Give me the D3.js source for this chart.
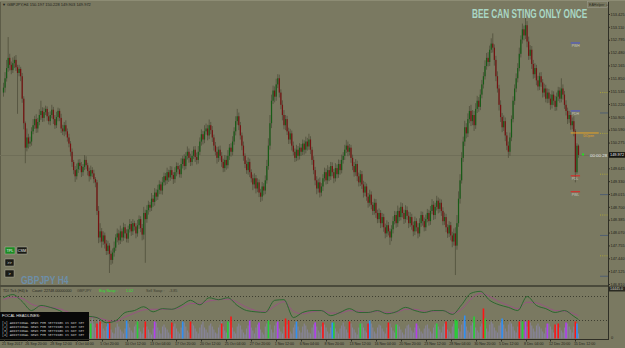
<!DOCTYPE html>
<html lang="en">
<head>
<meta charset="UTF-8">
<title>GBPJPY H4</title>
<script src="https://cdn.jsdelivr.net/npm/d3@7"></script>
<style>
  body { margin: 0; background: #7a7961; }
  svg { display: block; }
  text { font-family: "Liberation Sans", Arial, sans-serif; }
</style>
</head>
<body>
<svg id="chart" width="625" height="348"></svg>
<script>
// ---- price data (H4 closes, 21 Sep - 15 Dec 2017) ----
var firstOpen = 151.50;
var closes = [
  151.62,151.85,152.10,152.35,152.18,152.05,152.22,152.30,152.12,151.98,
  152.08,151.90,151.35,150.75,150.15,150.40,150.25,150.30,150.55,150.70,
  150.85,150.62,150.78,150.95,151.05,150.88,151.02,151.10,150.92,150.80,
  150.95,151.08,150.85,150.70,150.90,151.05,150.88,150.62,150.55,150.70,
  150.55,150.40,150.25,150.05,149.80,149.60,149.45,149.62,149.78,149.70,
  149.55,149.68,149.85,149.72,149.58,149.45,149.60,149.52,149.38,149.30,
  148.60,147.95,148.10,147.85,148.00,147.80,147.62,147.75,147.55,147.40,
  147.58,147.70,147.95,148.05,147.88,148.10,147.95,148.20,148.05,147.92,
  148.15,148.28,148.10,148.30,148.22,148.05,148.25,148.40,148.18,148.02,
  148.55,148.40,148.62,148.75,148.68,148.90,148.82,149.05,148.95,149.12,
  149.25,149.10,149.30,149.45,149.35,149.55,149.42,149.60,149.48,149.38,
  149.55,149.70,149.62,149.50,149.75,149.88,149.70,149.95,150.05,149.90,
  149.80,149.95,150.10,149.92,149.85,150.05,150.30,150.48,150.35,150.55,
  150.62,150.45,150.70,150.58,150.40,150.20,150.05,149.90,150.10,149.95,
  149.80,149.65,149.85,149.72,149.95,150.15,150.05,150.30,150.55,150.80,
  150.92,150.70,150.45,150.20,149.95,149.75,149.60,149.80,149.55,149.40,
  149.25,149.40,149.15,149.30,149.05,148.95,149.20,149.10,149.35,149.70,
  150.20,150.75,151.30,151.55,151.40,151.70,151.85,151.50,151.20,150.95,
  150.70,150.85,150.55,150.35,150.50,150.20,150.05,149.90,150.10,149.95,
  150.15,150.05,150.25,150.10,150.30,150.18,150.35,150.10,149.85,149.60,
  149.35,149.15,149.30,149.05,149.20,149.40,149.55,149.35,149.60,149.45,
  149.70,149.55,149.40,149.65,149.50,149.75,149.60,149.85,149.95,150.10,
  150.20,150.05,150.15,149.90,149.70,149.55,149.75,149.45,149.30,149.50,
  149.25,149.05,149.20,148.95,148.80,149.00,148.75,148.60,148.80,148.55,
  148.40,148.55,148.30,148.45,148.20,148.05,148.25,148.10,147.95,148.15,
  148.35,148.50,148.30,148.60,148.45,148.70,148.55,148.40,148.62,148.48,
  148.30,148.45,148.25,148.10,148.35,148.20,148.05,148.30,148.50,148.35,
  148.20,148.40,148.55,148.35,148.60,148.75,148.50,148.70,148.85,148.65,
  148.80,148.60,148.35,148.45,148.20,148.05,148.25,148.00,147.85,148.05,
  147.75,148.30,148.90,149.35,149.90,150.30,150.65,150.50,150.85,151.05,
  150.80,150.95,150.70,151.10,151.30,151.15,151.45,151.70,151.90,152.15,
  152.35,152.25,152.55,152.70,152.60,152.30,151.90,151.60,151.20,150.90,
  150.65,150.80,150.45,150.20,150.05,150.40,150.85,151.30,151.60,151.85,
  152.10,152.45,152.80,153.05,152.90,153.15,152.75,152.40,152.55,152.20,
  151.95,152.10,151.80,151.65,151.90,151.75,151.50,151.60,151.35,151.50,
  151.35,151.20,151.45,151.30,151.15,151.40,151.55,151.35,151.60,151.45,
  151.20,151.05,150.85,150.95,150.70,150.80,150.55,149.55,150.197,149.972
];
// upper / lower wick length in pips
var wickUp = [
  12,15,20,51,10,8,14,9,12,6,  10,5,8,6,4,22,9,12,10,15,  8,12,10,14,25,9,11,8,6,10,
  9,12,7,10,13,8,6,10,9,8,  12,7,9,6,8,5,10,14,8,9,  10,7,12,9,6,8,11,7,9,5,
  6,12,20,8,10,7,9,12,6,8,  10,15,8,12,9,14,7,11,8,10,  9,12,7,10,6,8,13,9,7,10,
  15,8,12,10,7,14,9,11,8,12,  10,7,13,9,8,11,6,10,9,7,  12,9,8,10,14,7,11,9,13,8,
  10,12,8,9,11,14,10,12,8,15,  12,9,14,8,10,7,9,12,8,10,  9,8,12,10,14,9,11,13,10,12,
  18,9,8,7,10,6,9,11,8,7,  9,12,8,10,7,9,11,8,12,15,  18,20,15,12,10,14,10,9,8,11,
  12,10,8,9,11,7,10,8,12,9,  11,9,10,8,12,9,14,8,7,9,  8,10,9,12,8,10,11,9,12,8,
  10,9,8,12,9,11,10,13,9,12,  14,10,9,7,8,10,12,8,9,10,  8,9,11,7,9,12,8,7,10,9,
  8,11,7,10,8,9,12,8,7,10,  12,10,9,13,8,11,9,8,12,9,  10,12,8,9,11,7,10,12,9,8,
  9,11,10,8,12,14,9,10,12,8,  10,8,9,11,8,7,10,8,9,12,  15,20,18,15,14,12,16,10,14,12,
  15,12,10,14,12,9,13,11,10,14,  12,14,10,13,25,8,10,12,9,11,  10,14,9,8,10,12,9,11,10,12,
  12,15,10,14,9,18,10,12,11,9,  10,12,8,11,9,10,8,12,9,10,  9,11,10,8,12,10,9,8,25,10,
  9,11,8,10,7,9,12,5,6,3
];
var wickDn = [
  10,12,8,9,14,10,7,12,9,100,  8,12,10,15,38,9,12,8,10,7,  9,11,10,8,12,10,9,7,11,8,
  10,8,12,9,7,10,8,11,9,12,  8,10,9,11,12,10,14,8,9,10,  12,9,8,10,11,13,8,9,10,12,
  10,14,12,15,8,12,10,9,47,12,  9,10,8,12,11,9,10,8,12,9,  10,8,11,9,10,12,8,9,10,14,
  12,107,9,11,10,8,12,9,10,8,  11,9,10,8,12,9,11,8,10,12,  9,10,12,8,9,11,10,8,9,12,
  10,9,8,12,11,9,8,10,12,9,  8,12,9,10,11,12,9,14,10,11,  12,10,9,11,8,10,12,9,8,10,
  9,12,10,11,12,10,9,11,12,10,  14,10,12,9,11,13,10,12,9,8,  9,10,12,8,14,10,9,12,11,13,
  10,12,9,11,10,12,9,10,8,11,  9,10,8,12,9,10,8,11,12,10,  12,14,10,12,9,11,8,10,9,12,
  9,10,12,8,10,9,11,8,9,10,  8,11,9,12,10,11,9,12,10,9,  11,12,9,10,12,9,11,10,9,12,
  10,9,12,10,11,12,9,10,18,9,  10,8,11,9,10,8,11,12,9,10,  12,9,11,12,9,10,12,8,9,11,
  10,9,8,11,9,8,12,10,9,11,  9,12,10,9,12,11,9,12,14,10,  72,10,9,12,8,10,11,12,9,10,
  12,10,14,9,10,12,8,9,10,8,  9,11,10,8,12,14,12,10,14,12,  12,9,14,11,15,10,9,8,10,9,
  10,8,9,10,12,9,14,10,9,12,  11,9,12,10,9,11,12,10,9,11,  10,12,9,11,10,9,11,10,9,12,
  10,11,12,9,11,10,12,25,4,7
];

// ---- indicator window: tick volume histogram + TDI lines ----
var volume = [
  22,30,18,12,26,34,20,14,10,24, 30,36,38,26,18,12,22,28,16,10, 20,26,32,18,14,8,18,24,30,20,
  12,10,22,28,20,16,12,8,20,26, 34,22,16,12,24,30,26,20,12,8, 18,24,28,22,14,10,34,40,30,22,
  30,38,26,30,20,16,24,32,28,18, 12,10,22,30,24,18,14,10,20,26, 30,22,16,12,24,28,34,20,14,10,
  22,30,24,18,12,8,20,26,32,22, 16,10,24,28,22,18,12,8,20,24, 30,20,14,10,22,26,32,24,16,12,
  24,30,26,20,14,10,22,28,34,22, 18,12,26,30,24,18,12,10,22,28, 34,24,16,12,26,32,28,22,14,10,
  24,30,26,18,12,8,20,26,30,22, 16,10,22,28,24,18,12,8,24,30, 36,28,18,12,26,32,26,20,14,10,
  24,34,28,20,14,10,22,28,32,24, 16,12,24,30,26,18,12,10,22,28, 32,24,16,12,24,30,28,22,14,10,
  22,28,30,20,14,10,20,26,32,24, 18,12,24,30,22,18,12,8,22,28, 30,22,16,12,24,28,30,22,14,10,
  22,28,26,20,14,10,22,26,30,22, 16,12,22,28,24,18,12,8,20,26, 28,22,16,12,22,28,26,20,14,10,
  20,26,28,20,14,10,22,28,30,24, 18,12,24,30,26,18,14,10,24,30, 34,30,20,14,28,36,32,24,16,12,
  26,32,30,22,16,12,24,30,34,26, 20,14,28,34,30,22,16,12,26,32, 36,28,20,14,28,34,30,24,16,12,
  24,32,34,26,18,12,24,30,32,26, 20,14,26,30,24,20,14,10,22,28, 30,24,18,12,24,28,26,22,16,12,
  22,28,30,24,18,12,24,30,26,10
];
var greenBars = [56, 86, 144, 170, 212, 229, 252, 278, 290, 291, 302, 309, 333];
var greenVals = [30, 34, 34, 36, 32, 30, 28, 30, 38, 36, 44, 40, 34];
var redBars = [60, 62, 68, 91, 108, 120, 140, 146, 181, 183, 205, 222, 234, 247, 284, 308, 331, 337, 354, 356, 367];
var redVals = [30, 34, 36, 34, 32, 34, 30, 44, 40, 36, 32, 34, 30, 32, 34, 60, 34, 36, 28, 30, 34];
var blueBars = [67, 79, 115, 188, 211, 235, 296, 320, 368];
var blueVals = [30, 36, 34, 34, 32, 36, 46, 40, 30];
var magentaBars = [97, 158, 164, 176, 200, 265, 335, 349, 361];
var magentaVals = [34, 36, 32, 34, 32, 30, 34, 30, 32];

var tdiGreen = [66,71,60,46,54,51,46,37,32,37, 35,27,30,43,46,52,44,49,48,54,
  62,55,66,63,66,54,46,44,43,62, 63,35,43,46,46,38,43,49,43,43,
  46,41,44,51,46,43,46,46,40,55, 73,76,62,55,51,46,68,54,49,43, 46,37,32];
var tdiPurple = [63,67,65,56,52,51,49,43,37,36, 35,31,29,36,42,47,48,48,48,51,
  57,57,61,63,64,59,51,46,44,53, 60,45,41,44,46,42,42,46,45,43,
  45,43,43,48,48,45,45,46,42,48, 64,73,68,60,54,49,59,58,52,46, 45,41,38];

// ---- axis labels ----
var priceTicks = [153.425,153.110,152.795,152.480,152.165,151.850,151.535,151.220,150.905,150.590,
  150.275,149.960,149.645,149.330,149.015,148.700,148.385,148.070,147.755,147.440,147.125,146.810];
var timeLabels = ["21 Sep 2017","26 Sep 20:00","28 Sep 12:00","3 Oct 04:00","5 Oct 20:00","10 Oct 12:00",
  "13 Oct 04:00","17 Oct 20:00","20 Oct 12:00","25 Oct 04:00","27 Oct 20:00","1 Nov 12:00","6 Nov 04:00",
  "8 Nov 20:00","13 Nov 12:00","16 Nov 04:00","20 Nov 20:00","23 Nov 12:00","28 Nov 04:00","30 Nov 20:00",
  "5 Dec 12:00","8 Dec 04:00","12 Dec 20:00","15 Dec 12:00"];

// daily / weekly levels drawn at the right edge
var levelPrices = [152.715, 151.05, 150.51, 149.46, 149.07];
var levelNames = ["PWH", "PDH", "DOpen", "PDL", "PWL"];
var levelColors = ["#4b55dd", "#4b55dd", "#e8a224", "#e52222", "#e52222"];
var roundLevels = [151.0, 149.0, 148.0, 147.0];
var halfLevels = [151.5, 150.5, 149.5, 148.5, 147.5];

var headlines = ["[1]", "[2]", "[3]", "[4]"];

// ---------------------------------------------------------------
var svg = d3.select("#chart");
var bg = "#7a7961";
var axisX = 608;

svg.append("rect").attr("width", 625).attr("height", 348).attr("fill", bg);

var last = closes.length - 1;
var x = d3.scaleLinear().domain([0, last]).range([3.5, 578.5]);
var y = d3.scaleLinear().domain([146.81, 153.425]).range([284, 14]);
var yTdi = d3.scaleLinear().domain([0, 100]).range([340, 276]);
var yVol = d3.scaleLinear().domain([0, 100]).range([338.5, 288.5]);

var candles = closes.map(function(c, i) {
  var o = i === 0 ? firstOpen : closes[i - 1];
  return { i: i, o: o, c: c,
    h: Math.max(o, c) + wickUp[i] / 100,
    l: Math.min(o, c) - wickDn[i] / 100 };
});

var defs = svg.append("defs");
defs.append("clipPath").attr("id", "mainClip")
  .append("rect").attr("x", 0).attr("y", 3).attr("width", axisX).attr("height", 282);
defs.append("clipPath").attr("id", "subClip")
  .append("rect").attr("x", 0).attr("y", 288).attr("width", axisX).attr("height", 51);
defs.append("clipPath").attr("id", "newsClip")
  .append("rect").attr("x", 0).attr("y", 312).attr("width", 88).attr("height", 29);

// window frame
svg.append("line").attr("x1", 0).attr("x2", 625).attr("y1", 0.5).attr("y2", 0.5).attr("stroke", "#8d8c74");
svg.append("line").attr("x1", 0.5).attr("x2", 0.5).attr("y1", 2).attr("y2", 340).attr("stroke", "#5d5c48");

var main = svg.append("g").attr("clip-path", "url(#mainClip)");

// bid line
main.append("line")
  .attr("x1", 0).attr("x2", axisX)
  .attr("y1", Math.round(y(closes[last])) + 0.5).attr("y2", Math.round(y(closes[last])) + 0.5)
  .attr("stroke", "#6f6e58");

// candles
main.selectAll("line.wick").data(candles).enter().append("line")
  .attr("class", "wick")
  .attr("x1", function(d) { return x(d.i); })
  .attr("x2", function(d) { return x(d.i); })
  .attr("y1", function(d) { return y(d.h); })
  .attr("y2", function(d) { return y(d.l); })
  .attr("stroke", "#55543f").attr("stroke-width", 0.9);

main.selectAll("rect.body").data(candles).enter().append("rect")
  .attr("class", "body")
  .attr("x", function(d) { return x(d.i) - 0.6; })
  .attr("width", 1.2)
  .attr("y", function(d) { return y(Math.max(d.o, d.c)); })
  .attr("height", function(d) { return Math.max(0.8, Math.abs(y(d.o) - y(d.c))); })
  .attr("fill", function(d) { return d.c >= d.o ? "#175c17" : "#761212"; });

// level lines at right side
var lv = main.append("g");
levelPrices.forEach(function(p, k) {
  var x1 = x(last - 5), x2 = k === 2 ? x(last + 13) : x(last + 1);
  lv.append("line").attr("x1", x1).attr("x2", x2)
    .attr("y1", y(p)).attr("y2", y(p))
    .attr("stroke", levelColors[k]).attr("stroke-width", 1);
  lv.append("text")
    .attr("x", k === 2 ? x(last + 3) : x1 + 1).attr("y", y(p) + 4)
    .attr("font-size", 3.4)
    .attr("fill", k === 2 ? "#e8a224" : "#c9c9c0")
    .text(levelNames[k]);
});

// current price marker and bar timer
main.append("rect").attr("x", x(last) + 3.5).attr("y", y(closes[last]) - 1.5)
  .attr("width", 2).attr("height", 2).attr("fill", "#22e022");
main.append("text").attr("x", 590).attr("y", y(closes[last]) + 2)
  .attr("font-size", 4.4).attr("fill", "#f2f2f2").text("00:00:28");

// price axis
svg.append("line").attr("x1", axisX + 0.5).attr("x2", axisX + 0.5).attr("y1", 2).attr("y2", 340)
  .attr("stroke", "#2f2f26");
var yAxis = d3.axisRight(y).tickValues(priceTicks).tickSize(1.5).tickFormat(d3.format(".3f"));
var ya = svg.append("g").attr("transform", "translate(" + (axisX + 0.5) + ",0)").call(yAxis);
ya.select(".domain").remove();
ya.selectAll("line").attr("stroke", "#2f2f26");
ya.selectAll("text").attr("font-size", 3.9).attr("fill", "#1e1e18").attr("x", 2)
  .style("display", function(d) { return Math.abs(y(d) - y(closes[last])) < 5 ? "none" : null; });

// round / half level marks on the axis
svg.selectAll("line.rl").data(roundLevels).enter().append("line")
  .attr("x1", axisX - 8).attr("x2", axisX)
  .attr("y1", function(d) { return y(d); }).attr("y2", function(d) { return y(d); })
  .attr("stroke", "#4f5e72").attr("stroke-width", 1);
svg.selectAll("line.hl").data(halfLevels).enter().append("line")
  .attr("x1", axisX - 8).attr("x2", axisX)
  .attr("y1", function(d) { return y(d); }).attr("y2", function(d) { return y(d); })
  .attr("stroke", "#a8a23a").attr("stroke-dasharray", "1,1.2");

// current price label
svg.append("rect").attr("x", axisX + 1).attr("y", y(closes[last]) - 2.8)
  .attr("width", 16).attr("height", 5.6).attr("fill", "#14140f");
svg.append("text").attr("x", axisX + 2).attr("y", y(closes[last]) + 1.5)
  .attr("font-size", 3.9).attr("fill", "#f0f0f0").text(d3.format(".3f")(closes[last]));

// separator between main chart and indicator window
svg.append("rect").attr("x", 0).attr("y", 285).attr("width", axisX).attr("height", 2).attr("fill", "#4a4a3b");

// ---- indicator window ----
var sub = svg.append("g").attr("clip-path", "url(#subClip)");
[68, 32].forEach(function(v) {
  sub.append("line").attr("x1", 0).attr("x2", axisX)
    .attr("y1", Math.round(yTdi(v)) + 0.5).attr("y2", Math.round(yTdi(v)) + 0.5)
    .attr("stroke", "#3e3e30").attr("stroke-dasharray", "1,2");
});

sub.selectAll("rect.vol").data(volume).enter().append("rect")
  .attr("class", "vol")
  .attr("x", function(d, i) { return x(i) - 0.5; })
  .attr("width", 1)
  .attr("y", function(d) { return yVol(d); })
  .attr("height", function(d) { return yVol(0) - yVol(d); })
  .attr("fill", "#87849c");

function signalBars(idx, vals, color) {
  sub.selectAll(null).data(idx).enter().append("rect")
    .attr("x", function(d) { return x(d) - 0.8; })
    .attr("width", 1.6)
    .attr("y", function(d, k) { return yVol(vals[k]); })
    .attr("height", function(d, k) { return yVol(0) - yVol(vals[k]); })
    .attr("fill", color);
}
signalBars(greenBars, greenVals, "#25d035");
signalBars(redBars, redVals, "#ff1414");
signalBars(blueBars, blueVals, "#2f90f5");
signalBars(magentaBars, magentaVals, "#b23ef0");

var tdiBars = d3.range(0, last, 6).concat([last]);
var tdiLine = d3.line().x(function(d, k) { return x(tdiBars[k]); }).y(function(d) { return yTdi(d); })
  .curve(d3.curveMonotoneX);
sub.append("path").datum(tdiPurple).attr("d", tdiLine)
  .attr("fill", "none").attr("stroke", "#9a4f86").attr("stroke-width", 0.9);
sub.append("path").datum(tdiGreen).attr("d", tdiLine)
  .attr("fill", "none").attr("stroke", "#24652a").attr("stroke-width", 0.9);

// indicator header
var hdr = svg.append("g").attr("font-size", 3.7).attr("fill", "#26261e");
hdr.append("text").attr("x", 3).attr("y", 291.5).text("TDI Tick (H4) b");
hdr.append("text").attr("x", 32).attr("y", 291.5).text("Count: 22748.00000000");
hdr.append("text").attr("x", 77).attr("y", 291.5).attr("fill", "#3c3c30").text("GBPJPY");
hdr.append("text").attr("x", 99).attr("y", 291.5).attr("fill", "#2ee02e").text("Buy Swap :");
hdr.append("text").attr("x", 126).attr("y", 291.5).attr("fill", "#2ee02e").text("1.02");
hdr.append("text").attr("x", 146).attr("y", 291.5).attr("fill", "#3c3c30").text("Sell Swap :");
hdr.append("text").attr("x", 169).attr("y", 291.5).attr("fill", "#3c3c30").text("-3.85");

// sub-window axis labels
svg.append("rect").attr("x", axisX + 1).attr("y", 286.5).attr("width", 16).attr("height", 5).attr("fill", "#2a2a22");
svg.append("text").attr("x", axisX + 2).attr("y", 290.3).attr("font-size", 3.6).attr("fill", "#d8d8d0").text("14445.0");
svg.append("text").attr("x", axisX + 3).attr("y", 339).attr("font-size", 3.9).attr("fill", "#1e1e18").text("0");

// news box
var news = svg.append("g");
news.append("rect").attr("x", 0).attr("y", 312).attr("width", 89).attr("height", 29).attr("fill", "#080808");
news.append("text").attr("x", 2).attr("y", 317).attr("font-size", 4).attr("fill", "#e6e6e6").text("FOCAL HEADLINES:");
news.append("g").attr("clip-path", "url(#newsClip)")
  .selectAll("text").data(headlines).enter().append("text")
  .attr("x", 2).attr("y", function(d, k) { return 324 + k * 4; })
  .attr("font-size", 3.2).attr("fill", "#c8c8c8")
  .style("font-family", "'Liberation Mono', monospace")
  .text(function(d) { return d + "  ADDITIONAL NEWS PER SETTINGS IS NOT SET"; });

// ---- time axis ----
svg.append("line").attr("x1", 0).attr("x2", axisX + 1).attr("y1", 339.5).attr("y2", 339.5).attr("stroke", "#2f2f26");
var timeBars = timeLabels.map(function(d, k) { return k === 0 ? 0 : 15 + 16 * (k - 1); });
var tg = svg.append("g");
tg.selectAll("line").data(timeBars).enter().append("line")
  .attr("x1", function(d) { return Math.round(x(d)) + 0.5; })
  .attr("x2", function(d) { return Math.round(x(d)) + 0.5; })
  .attr("y1", 339.5).attr("y2", 341.5).attr("stroke", "#2f2f26");
tg.selectAll("text").data(timeLabels).enter().append("text")
  .attr("x", function(d, k) { return x(timeBars[k]) - 1.5; })
  .attr("y", 345)
  .attr("font-size", 3.6).attr("fill", "#1e1e18")
  .text(function(d) { return d; });

// ---- overlays ----
svg.append("text").attr("x", 2).attr("y", 6).attr("font-size", 4).attr("fill", "#1e1e18")
  .text("\u25BC GBPJPY,H4  150.197 150.228 149.903 149.972");

svg.append("rect").attr("x", 587.5).attr("y", 1.5).attr("width", 20).attr("height", 6)
  .attr("fill", "none").attr("stroke", "#9a998a").attr("stroke-width", 0.6);
svg.append("text").attr("x", 589).attr("y", 6).attr("font-size", 3.6).attr("fill", "#2a2a22").text("EAHelper \u263A");

// slogan: condensed bold caps
svg.append("text")
  .attr("transform", "translate(472,17.5) scale(0.69,1)")
  .attr("font-size", 12).attr("font-weight", "bold").attr("fill", "#a9d7c5")
  .text("BEE CAN STING ONLY ONCE");

// buttons
function button(bx, by, w, label, fill) {
  svg.append("rect").attr("x", bx).attr("y", by).attr("width", w).attr("height", 7)
    .attr("fill", fill).attr("stroke", "#bdbdb0").attr("stroke-width", 0.4);
  svg.append("text").attr("x", bx + w / 2).attr("y", by + 5).attr("text-anchor", "middle")
    .attr("font-size", 3.8).attr("fill", "#f0f0f0").text(label);
}
button(5, 247, 10, "TPL", "#1d8a24");
button(17, 247, 10, "CSM", "#1a1a14");
button(5, 259, 9, ">>", "#1a1a14");
button(5, 270, 9, ">", "#1a1a14");

svg.append("text")
  .attr("transform", "translate(21,284) scale(0.85,1)")
  .attr("font-size", 10).attr("font-weight", "bold").attr("fill", "#6d8ea8")
  .text("GBPJPY  H4");
</script>
</body>
</html>
